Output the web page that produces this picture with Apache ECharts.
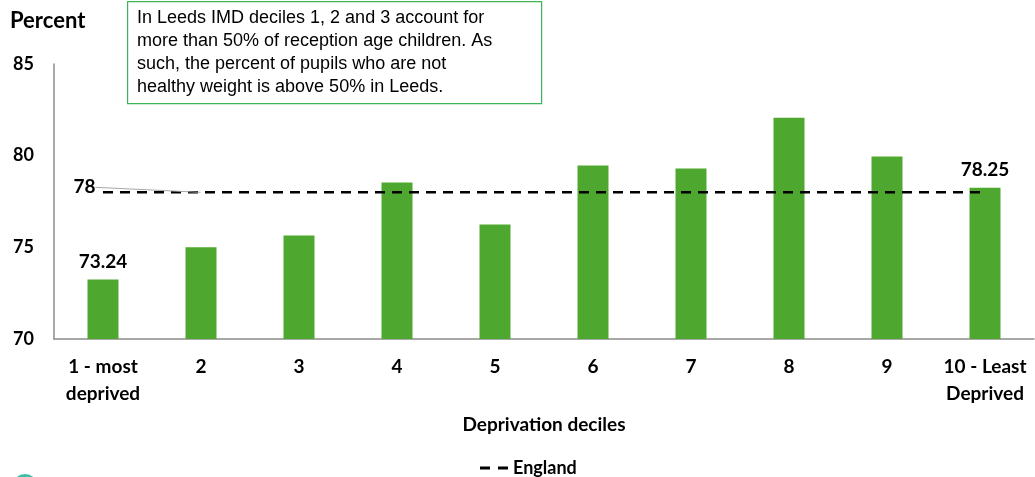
<!DOCTYPE html>
<html><head><meta charset="utf-8">
<script src="https://cdn.jsdelivr.net/npm/echarts@6/dist/echarts.min.js"></script>
<style>html,body{margin:0;padding:0;background:#fff}#c{width:1035px;height:477px}</style>
</head><body><div id="c"></div>
<script>
const categories = ['1 - most\ndeprived','2','3','4','5','6','7','8','9','10 - Least\nDeprived'];
const leedsValues = [73.24, 75.0, 75.65, 78.53, 76.25, 79.46, 79.3, 82.07, 79.95, 78.25];
const englandValues = [78, 78, 78, 78, 78, 78, 78, 78, 78, 78];
const labelledBars = [0, 9];
const labelledEnglandPoint = 1;
const yTicks = [70, 75, 80, 85];
const noteText = 'In Leeds IMD deciles 1, 2 and 3 account for\nmore than 50% of reception age children. As\nsuch, the percent of pupils who are not\nhealthy weight is above 50% in Leeds.';

const FONT = 'Lato, "Open Sans", sans-serif';
const chart = echarts.init(document.getElementById('c'), null, {renderer:'canvas'});
chart.setOption({
  animation:false,
  textStyle:{fontFamily:FONT},
  grid:{left:54, right:1, top:64, bottom:138, containLabel:false},
  xAxis:{
    type:'category', data:categories,
    name:'Deprivation deciles', nameLocation:'middle', nameGap:76,
    nameTextStyle:{fontFamily:FONT, fontWeight:'bold', fontSize:19, color:'#000'},
    axisLine:{lineStyle:{color:'#8c8c8c', width:1.5}},
    axisTick:{show:false},
    axisLabel:{fontFamily:FONT, fontWeight:'bold', fontSize:19, color:'#000', margin:14, lineHeight:27, interval:0}
  },
  yAxis:{
    type:'value', min:yTicks[0], max:yTicks[yTicks.length-1], interval:5,
    name:'Percent', nameLocation:'end', nameGap:32,
    nameTextStyle:{fontFamily:FONT, fontWeight:'bold', fontSize:22, color:'#000', align:'left', padding:[0,0,0,-44]},
    axisLine:{show:true, lineStyle:{color:'#8c8c8c', width:1.5}},
    axisTick:{show:false},
    splitLine:{show:false},
    axisLabel:{fontFamily:FONT, fontWeight:'bold', fontSize:18, color:'#000', margin:20, align:'right'}
  },
  legend:{
    data:[{name:'England', icon:'path://M0,0h10v3h-10z M18,0h10v3h-10z', itemStyle:{color:'#000', opacity:1}}],
    top:454, left:475, itemWidth:28, itemHeight:3, itemGap:9,
    textStyle:{fontFamily:FONT, fontWeight:'bold', fontSize:18, color:'#000'}
  },
  series:[
    {
      name:'Leeds', type:'bar', barWidth:31,
      itemStyle:{color:'#4EA72E'},
      data:leedsValues.map((v,i)=>({value:v, label:{show:labelledBars.includes(i)}})),
      label:{position:'top', distance:8, fontFamily:FONT, fontWeight:'bold', fontSize:19, color:'#000', formatter:p=>p.value.toFixed(2)}
    },
    {
      name:'England', type:'line', symbol:'circle', symbolSize:1, showSymbol:true, z:5,
      lineStyle:{color:'#000', width:2.5, type:[10,7]},
      itemStyle:{color:'rgba(0,0,0,0)', borderWidth:0},
      data:englandValues.map((v,i)=>({value:v, label:{show:i===labelledEnglandPoint}})),
      label:{position:'left', distance:5, fontFamily:FONT, fontWeight:'bold', fontSize:19, color:'#000', opacity:1, formatter:p=>String(p.value)},
      labelLayout:{dx:-100, dy:-5},
      labelLine:{show:true, lineStyle:{color:'#a6a6a6', width:1}}
    }
  ],
  graphic:[
    {type:'rect', left:127, top:1, shape:{width:414, height:102}, style:{fill:'#fff', stroke:'#3cb55a', lineWidth:1.2}, z:10},
    {type:'text', left:137, top:7, style:{text:noteText, fontFamily:'"Liberation Sans", Arial, sans-serif', fontSize:18, lineHeight:23, fill:'#000'}, z:11},
    {type:'circle', shape:{cx:25, cy:487, r:13}, style:{fill:'#3cbfa5'}, z:10}
  ]
});
</script></body></html>
